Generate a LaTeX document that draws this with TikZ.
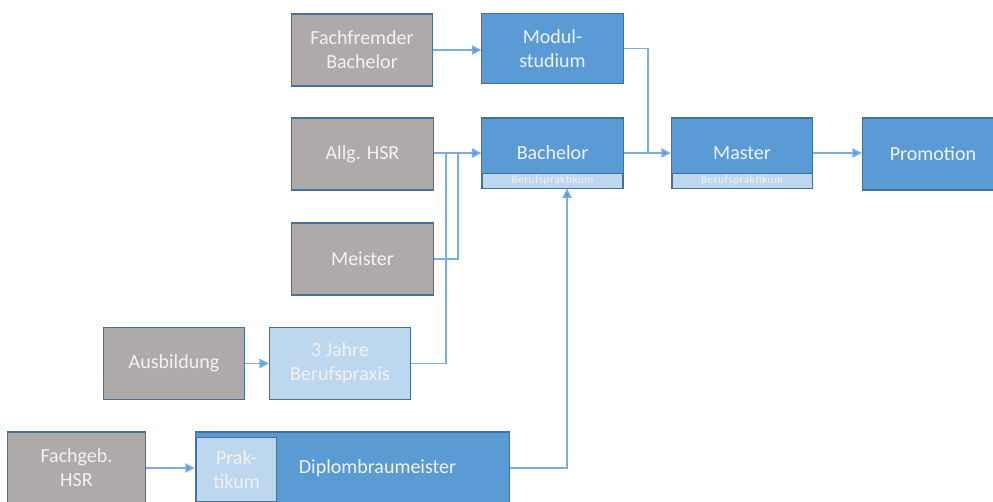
\documentclass[tikz,border=0pt]{standalone}
\usepackage{fontspec}
\setmainfont{Carlito}
\usetikzlibrary{arrows.meta}
\definecolor{boxgrey}{HTML}{AEAAA9}
\definecolor{boxblue}{HTML}{5B9BD5}
\definecolor{boxlight}{HTML}{BDD7EE}
\definecolor{boxline}{HTML}{41719C}
\definecolor{boxtext}{HTML}{F2F2F2}
\definecolor{linkline}{HTML}{78AEE2}
\begin{document}
\begin{tikzpicture}[x=0.75pt,y=-0.75pt,
    box/.style={draw=boxline,line width=0.8pt,text=boxtext,align=center,
      minimum width=106pt,minimum height=54pt,inner sep=0pt,
      font=\fontsize{15}{18}\selectfont},
    greybox/.style={box,fill=boxgrey},
    bluebox/.style={box,fill=boxblue},
    lightbox/.style={box,fill=boxlight},
    strip/.style={draw=boxline,line width=0.5pt,fill=boxlight,text=boxtext,
      minimum width=105pt,minimum height=11pt,inner sep=0pt,
      font=\fontsize{8.5}{9}\selectfont\addfontfeature{LetterSpace=4}},
    link/.style={draw=linkline,line width=1.2pt},
    tip/.style={-{Triangle[length=7pt,width=7pt,fill=boxblue]}}]
  \useasboundingbox (0,0) rectangle (993,501);
  % left column
  \node[greybox] (fremd) at (362,50) {Fachfremder\\Bachelor};
  \node[greybox] (allg) at (362.5,154) {Allg. HSR};
  \node[greybox] (meister) at (362.5,259) {Meister};
  \node[greybox] (ausb) at (174,363.5) {Ausbildung};
  \node[lightbox] (praxis) at (340,363.5) {3 Jahre\\Berufspraxis};
  \node[greybox,minimum width=103pt] (fachgeb) at (76.5,468) {Fachgeb.\\HSR};
  % diplom box with praktikum part
  \node[bluebox,minimum width=236pt] (diplom) at (352.5,468) {};
  \node[lightbox,minimum width=60pt,minimum height=48pt,anchor=north west] (prak) at (196,437) {Prak-\\tikum};
  \node[text=boxtext,font=\fontsize{15}{18}\selectfont] (dtext) at (377.5,468) {Diplombraumeister};
  % studies
  \node[bluebox,minimum height=52.5pt] (modul) at (552.5,48.5) {Modul-\\studium};
  \node[bluebox,minimum height=52.5pt] (bachelor) at (552.5,153) {Bachelor};
  \node[strip,anchor=south] (bstrip) at (bachelor.south) {Berufspraktikum};
  \node[bluebox,minimum height=52.5pt] (master) at (742,153) {Master};
  \node[strip,anchor=south] (mstrip) at (master.south) {Berufspraktikum};
  \node[bluebox] (promo) at (933,154) {Promotion};
  % junctions
  \coordinate (j1) at (458,153);
  \coordinate (j2) at (446,153);
  \coordinate (j3) at (648,153);
  % connectors
  \draw[link,tip] (fremd.east) -- (modul.west |- fremd.east);
  \draw[link,tip] (allg.east |- bachelor.west) -- (bachelor.west);
  \draw[link] (meister.east) -| (j1);
  \draw[link] (praxis.east) -| (j2);
  \draw[link,tip] (ausb.east) -- (praxis.west);
  \draw[link,tip] (fachgeb.east) -- (diplom.west);
  \draw[link,tip] (diplom.east) -| ([xshift=10.9pt]bachelor.south);
  \draw[link] (modul.east) -| (j3);
  \draw[link,tip] (bachelor.east) -- (master.west);
  \draw[link,tip] (master.east) -- (promo.west |- master.east);
\end{tikzpicture}
\end{document}
